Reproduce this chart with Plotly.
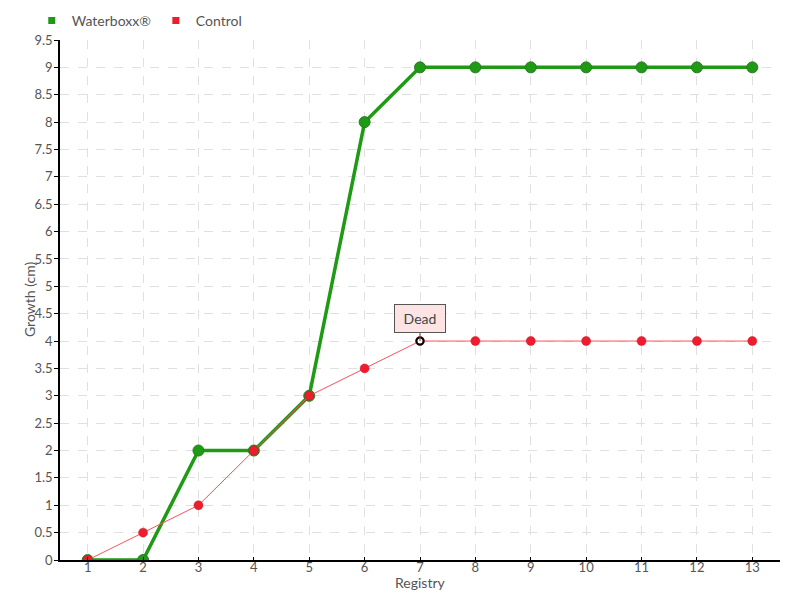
import plotly.graph_objects as go

registry = [1, 2, 3, 4, 5, 6, 7, 8, 9, 10, 11, 12, 13]
waterboxx = [0, 0, 2, 2, 3, 8, 9, 9, 9, 9, 9, 9, 9]
control = [0, 0.5, 1, 2, 3, 3.5, 4, 4, 4, 4, 4, 4, 4]
y_ticks = [0, 0.5, 1, 1.5, 2, 2.5, 3, 3.5, 4, 4.5, 5, 5.5, 6, 6.5, 7, 7.5, 8, 8.5, 9, 9.5]
dead_index = 6

FONT = "Lato, sans-serif"
GREEN = "#1e9a14"
RED = "#ee1c2e"
TXT = "#555555"

fig = go.Figure()
fig.add_trace(go.Scatter(
    x=registry, y=waterboxx, name="Waterboxx®", mode="lines+markers", showlegend=False,
    line=dict(color=GREEN, width=3.5),
    marker=dict(color=GREEN, size=11, line=dict(color="#2a7a22", width=1)),
))
fig.add_trace(go.Scatter(
    x=registry, y=control, name="Control", mode="lines+markers", showlegend=False,
    line=dict(color="#ff5060", width=1),
    marker=dict(color=RED, size=9, line=dict(color="#d01020", width=0.5)),
))
# legend entries (square swatches)
for name, color in [("Waterboxx®", GREEN), ("Control", RED)]:
    fig.add_trace(go.Scatter(
        x=[None], y=[None], name=name, mode="markers",
        marker=dict(color=color, size=7, symbol="square"),
    ))
fig.add_trace(go.Scatter(
    x=[registry[dead_index]], y=[control[dead_index]], mode="markers", showlegend=False,
    marker=dict(color="white", size=7, line=dict(color="black", width=2)),
    hoverinfo="skip",
))
fig.add_annotation(
    x=registry[dead_index], y=control[dead_index], text=" Dead ", showarrow=True,
    arrowhead=0, arrowwidth=1, arrowcolor="#555", ax=0, ay=-8, yanchor="bottom",
    bgcolor="#fde4e4", bordercolor="#555", borderwidth=1, borderpad=5,
    font=dict(family=FONT, size=14, color="#444"),
)
# axis titles
fig.add_annotation(
    x=0, xref="paper", y=0.5, yref="paper", text="Growth (cm)", showarrow=False,
    textangle=-90, xanchor="center", yanchor="middle", xshift=-31,
    font=dict(family=FONT, size=14, color=TXT),
)
fig.add_annotation(
    x=0.5, xref="paper", y=0, yref="paper", text="Registry", showarrow=False,
    xanchor="center", yanchor="middle", yshift=-22,
    font=dict(family=FONT, size=14, color=TXT),
)

axis_common = dict(
    showline=True, linecolor="black", linewidth=1.5,
    tickcolor="black", gridcolor="#e0e0e0", griddash="dash", gridwidth=1,
    zeroline=False, tickfont=dict(family=FONT, size=13, color=TXT), automargin=False,
)
fig.update_xaxes(
    range=[0.5, 13.5], tickvals=registry, ticktext=[str(r) for r in registry],
    ticks="inside", ticklen=3, ticklabelstandoff=-5, **axis_common,
)
fig.update_yaxes(
    range=[0, 9.5], tickvals=y_ticks, ticktext=[f"{t:g}" for t in y_ticks],
    ticks="outside", ticklen=4, ticklabelstandoff=-1, **axis_common,
)
# page body has an 8px margin: shrink figure so plot area lands at the reference position
fig.update_layout(
    width=792, height=592, plot_bgcolor="white", paper_bgcolor="white",
    margin=dict(l=52, r=20, t=32, b=40),
    font=dict(family=FONT, size=14, color=TXT),
    legend=dict(orientation="h", x=0.03, xanchor="left", y=0.978, yanchor="middle",
                xref="container", yref="container", bgcolor="rgba(0,0,0,0)",
                font=dict(family=FONT, size=14, color=TXT),
                itemwidth=30, tracegroupgap=0, itemclick=False),
    showlegend=True,
)
fig.write_html("out.html")
